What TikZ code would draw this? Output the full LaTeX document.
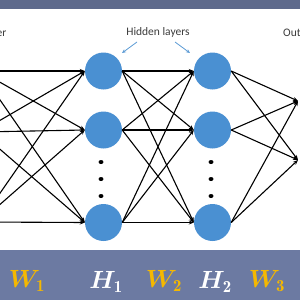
\documentclass[tikz,border=0pt]{standalone}
\usepackage{fontspec}
\usepackage{amsmath,bm}
\newfontfamily\cali{Carlito}
\usetikzlibrary{arrows.meta,shapes.geometric}
\definecolor{bandtop}{RGB}{94,106,140}
\definecolor{bandbot}{RGB}{108,122,162}
\definecolor{nodeblue}{RGB}{74,144,210}
\definecolor{lblblue}{RGB}{91,155,213}
\definecolor{wgold}{RGB}{245,184,0}
\definecolor{txtgray}{RGB}{60,60,60}
\tikzset{
  neuron/.style={circle,fill=nodeblue,minimum size=37pt,inner sep=0pt},
  vdot/.style={ellipse,fill=black,minimum width=5pt,minimum height=4pt,inner sep=0pt},
  conn/.style={-{Stealth[length=5pt,width=4pt]},line width=1.1pt,black},
  hint/.style={-{Stealth[length=4pt,width=3.5pt]},line width=0.8pt,lblblue},
  layertext/.style={font=\cali\fontsize{11.5}{13}\selectfont,text=txtgray,inner sep=0pt},
  wlabel/.style={text=wgold,font=\fontsize{24}{28}\selectfont,inner sep=0pt},
  hlabel/.style={text=white,font=\fontsize{24}{28}\selectfont,inner sep=0pt}
}
\begin{document}
\begin{tikzpicture}[x=1pt,y=-1pt]
\useasboundingbox (0,0) rectangle (300,300);
\clip (0,0) rectangle (300,300);
\fill[white] (0,0) rectangle (300,300);
\fill[bandtop] (0,0) rectangle (300,9);
\fill[bandbot] (0,250) rectangle (300,300);

% input (off-canvas) and output coordinates
\coordinate (i1) at (-20,71);
\coordinate (i2) at (-20,132);
\coordinate (i3) at (-20,222);
\coordinate (o1) at (298,101);
\coordinate (o2) at (298,160);

% hidden neurons
\node[neuron] (a1) at (103.5,71) {};
\node[neuron] (a2) at (103.5,130) {};
\node[neuron] (a3) at (103.5,222.5) {};
\node[neuron] (b1) at (212.5,71) {};
\node[neuron] (b2) at (212.5,130) {};
\node[neuron] (b3) at (212.5,222.5) {};

\node[vdot] (d1) at (101,162) {};
\node[vdot] (d2) at (101,179) {};
\node[vdot] (d3) at (101,196) {};
\node[vdot] (e1) at (211,162) {};
\node[vdot] (e2) at (211,179) {};
\node[vdot] (e3) at (211,196) {};

% connections
\foreach \s in {i1,i2,i3}{
  \foreach \t in {a1,a2,a3}{
    \draw[conn] (\s) -- (\t.west);
  }
}
\foreach \s in {a1,a2,a3}{
  \foreach \t in {b1,b2,b3}{
    \draw[conn] (\s.east) -- (\t.west);
  }
}
\foreach \s in {b1,b2,b3}{
  \foreach \t in {o1,o2}{
    \draw[conn] (\s.east) -- (\t);
  }
}

% labels
\node[layertext] (hl) at (158,32) {Hidden layers};
\node[layertext,anchor=east] (il) at (6.5,33) {Input layer};
\node[layertext,anchor=west] (ol) at (283,33) {Output layer};
\coordinate (h1s) at (137,42);
\coordinate (h1e) at (122,53);
\coordinate (h2s) at (175,42);
\coordinate (h2e) at (190,53);
\draw[hint] (h1s) -- (h1e);
\draw[hint] (h2s) -- (h2e);

\node[wlabel] (w1) at (27,281) {$\bm{W}_{\mathbf{1}}$};
\node[hlabel] (l1) at (106,282) {$\bm{H}_{\mathbf{1}}$};
\node[wlabel] (w2) at (164,281) {$\bm{W}_{\mathbf{2}}$};
\node[hlabel] (l2) at (215,282) {$\bm{H}_{\mathbf{2}}$};
\node[wlabel] (w3) at (267,281) {$\bm{W}_{\mathbf{3}}$};
\end{tikzpicture}
\end{document}
